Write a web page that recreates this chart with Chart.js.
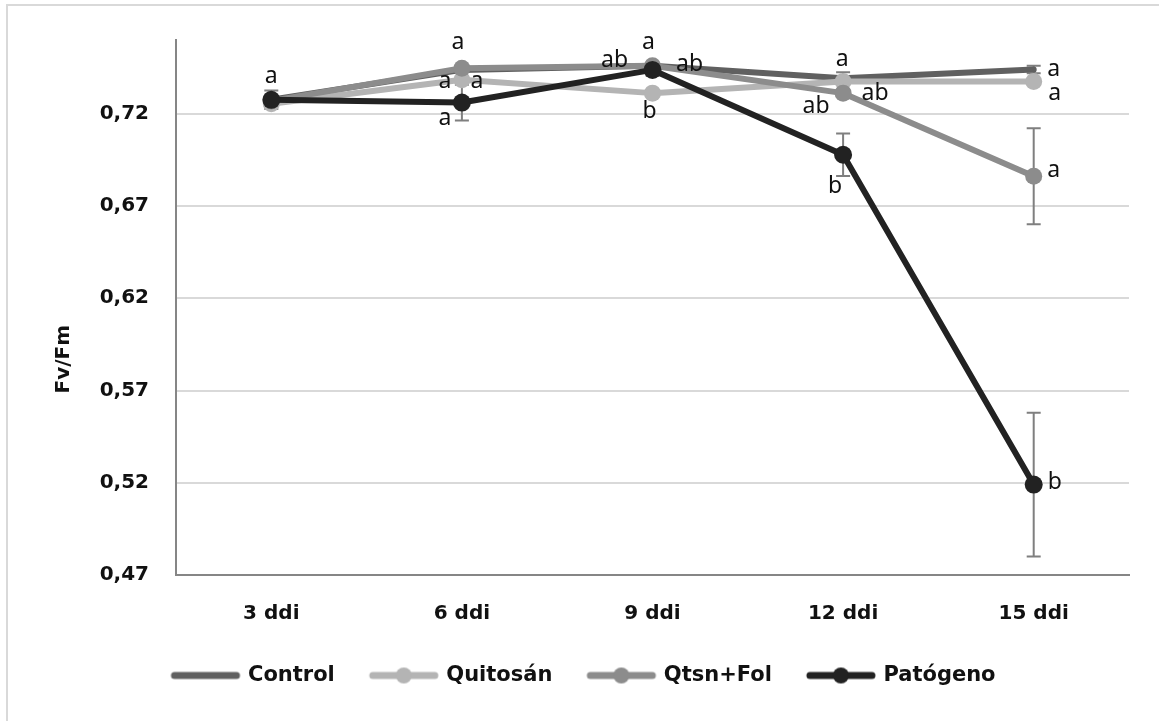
<!DOCTYPE html>
<html>
<head>
<meta charset="utf-8">
<script src="https://cdn.jsdelivr.net/npm/chart.js@4.4.1/dist/chart.umd.min.js"></script>
<style>
  html, body { margin: 0; padding: 0; background: #fff; }
  #wrap { position: relative; width: 1159px; height: 721px; overflow: hidden; }
  #frame { position: absolute; left: 6px; top: 4px; right: -4px; bottom: -4px; border-left: 2px solid #d9d9d9; border-top: 2px solid #d9d9d9; }
  canvas { position: absolute; left: 0; top: 0; }
</style>
</head>
<body>
<div id="wrap"><div id="frame"></div><canvas id="myChart" width="1159" height="721"></canvas></div>
<script>
var days = ['3 ddi', '6 ddi', '9 ddi', '12 ddi', '15 ddi'];
var yTicks = [0.47, 0.52, 0.57, 0.62, 0.67, 0.72];

// Fv/Fm means
var control  = [0.7276, 0.7438, 0.7460, 0.7393, 0.7440];
var quitosan = [0.7254, 0.7384, 0.7312, 0.7375, 0.7375];
var qtsnFol  = [0.7270, 0.7447, 0.7460, 0.7312, 0.6861];
var patogeno = [0.7276, 0.7261, 0.7438, 0.6978, 0.5190];

// error bars (+/-)
var controlErr  = [0.002, 0, 0, 0, 0.002];
var quitosanErr = [0, 0, 0, 0.005, 0];
var qtsnFolErr  = [0, 0, 0, 0, 0.026];
var patogenoErr = [0.005, 0.0097, 0.003, 0.0115, 0.039];

// significance letters
var controlLetters  = [null, 'a', 'ab', 'ab', 'a'];
var quitosanLetters = [null, 'a', 'b', 'a', 'a'];
var qtsnFolLetters  = [null, 'a', 'ab', 'ab', 'a'];
var patogenoLetters = ['a', 'a', 'a', 'b', 'b'];

var boldFont = { family: 'DejaVu Sans', weight: 'bold', size: 20 };

function legendIcon(color, marker, r) {
    var c = document.createElement('canvas');
    c.width = 72; c.height = 20;
    var g = c.getContext('2d');
    g.strokeStyle = color;
    g.lineWidth = 7;
    g.lineCap = 'round';
    g.beginPath(); g.moveTo(5, 10); g.lineTo(67, 10); g.stroke();
    if (marker) {
        g.fillStyle = color;
        g.beginPath(); g.arc(36, 10, r, 0, Math.PI * 2); g.fill();
    }
    return c;
}

function series(label, data, errors, letters, offsets, color, radius, order) {
    return {
        label: label,
        data: data,
        errors: errors,
        letters: letters,
        letterOffsets: offsets,
        order: order,
        borderColor: color,
        backgroundColor: color,
        pointBackgroundColor: color,
        borderWidth: 6,
        borderJoinStyle: 'round',
        borderCapStyle: 'round',
        pointRadius: radius,
        pointHoverRadius: radius,
        pointBorderWidth: 0,
        tension: 0,
        legendIcon: legendIcon(color, radius > 0, 8)
    };
}

// error bars drawn behind the lines
var errorBars = {
    id: 'errorBars',
    beforeDatasetsDraw: function(chart) {
        var ctx = chart.ctx, y = chart.scales.y;
        ctx.save();
        ctx.strokeStyle = '#7f7f7f';
        ctx.lineWidth = 2;
        chart.data.datasets.forEach(function(ds, i) {
            var meta = chart.getDatasetMeta(i);
            ds.errors.forEach(function(e, j) {
                if (!e) return;
                var x = meta.data[j].x;
                var top = y.getPixelForValue(ds.data[j] + e);
                var bot = y.getPixelForValue(ds.data[j] - e);
                ctx.beginPath();
                ctx.moveTo(x, top); ctx.lineTo(x, bot);
                ctx.moveTo(x - 7, top); ctx.lineTo(x + 7, top);
                ctx.moveTo(x - 7, bot); ctx.lineTo(x + 7, bot);
                ctx.stroke();
            });
        });
        ctx.restore();
    }
};

// letters next to the points, plus the y axis title (sits a bit low, like the original)
var letterLabels = {
    id: 'letterLabels',
    afterDatasetsDraw: function(chart) {
        var ctx = chart.ctx;
        ctx.save();
        ctx.font = '23px "Noto Sans"';
        ctx.fillStyle = '#111';
        ctx.textAlign = 'center';
        ctx.textBaseline = 'middle';
        chart.data.datasets.forEach(function(ds, i) {
            var meta = chart.getDatasetMeta(i);
            ds.letters.forEach(function(t, j) {
                if (!t) return;
                var off = ds.letterOffsets[j];
                var p = meta.data[j];
                ctx.fillText(t, p.x + off[0], p.y + off[1]);
            });
        });
        ctx.restore();
    },
    afterDraw: function(chart) {
        var ctx = chart.ctx, s = chart.scales.y;
        ctx.save();
        ctx.translate(s.left + 24, s.getPixelForValue(0.587));
        ctx.rotate(-Math.PI / 2);
        ctx.font = 'bold 20px "DejaVu Sans"';
        ctx.fillStyle = '#111';
        ctx.textAlign = 'center';
        ctx.textBaseline = 'middle';
        ctx.fillText('Fv/Fm', 0, 0);
        ctx.restore();
    }
};

function createChart() {
    var ctx = document.getElementById('myChart').getContext('2d');
    var chart = new Chart(ctx, {
        type: 'line',
        data: {
            labels: days,
            datasets: [
                series('Control', control, controlErr, controlLetters,
                    [null, [-17, 12], [-38, -5], [32, 15], [20, 0]], '#606060', 0, 4),
                series('Quitosán', quitosan, quitosanErr, quitosanLetters,
                    [null, [15, 2], [-3, 18], [-1, -22], [21, 12]], '#b4b4b4', 8.5, 3),
                series('Qtsn+Fol', qtsnFol, qtsnFolErr, qtsnFolLetters,
                    [null, [-4, -26], [37, -1], [-27, 13], [20, -6]], '#8c8c8c', 8.5, 2),
                series('Patógeno', patogeno, patogenoErr, patogenoLetters,
                    [[0, -23], [-17, 16], [-4, -27], [-8, 32], [21, -2]], '#222222', 9, 1)
            ]
        },
        options: {
            responsive: false,
            animation: false,
            layout: { padding: { left: 40, right: 30, top: 40, bottom: 25 } },
            plugins: {
                tooltip: { enabled: false },
                legend: {
                    position: 'bottom',
                    labels: {
                        usePointStyle: true,
                        pointStyleWidth: 64,
                        padding: 37,
                        color: '#111',
                        font: { family: 'DejaVu Sans', weight: 'bold', size: 21 },
                        sort: function(a, b) { return a.datasetIndex - b.datasetIndex; },
                        generateLabels: function(chart) {
                            var items = Chart.defaults.plugins.legend.labels.generateLabels(chart);
                            items.forEach(function(it) {
                                it.pointStyle = chart.data.datasets[it.datasetIndex].legendIcon;
                            });
                            return items;
                        }
                    }
                }
            },
            scales: {
                x: {
                    offset: true,
                    grid: { display: false },
                    border: { display: true, color: '#868686', width: 2 },
                    ticks: { color: '#111', font: boldFont, padding: 19 },
                    afterFit: function(s) { s.height = 53; }
                },
                y: {
                    min: 0.47,
                    max: 0.76,
                    afterBuildTicks: function(s) {
                        s.ticks = yTicks.map(function(v) { return { value: v }; });
                    },
                    grid: { color: '#d9d9d9', lineWidth: 2, drawTicks: false },
                    border: { display: true, color: '#868686', width: 2 },
                    ticks: {
                        color: '#111',
                        font: boldFont,
                        padding: 27,
                        callback: function(v) { return v.toFixed(2).replace('.', ','); }
                    },
                    afterFit: function(s) { s.width = 136; }
                }
            }
        },
        plugins: [errorBars, letterLabels]
    });
}

createChart();
</script>
</body>
</html>
